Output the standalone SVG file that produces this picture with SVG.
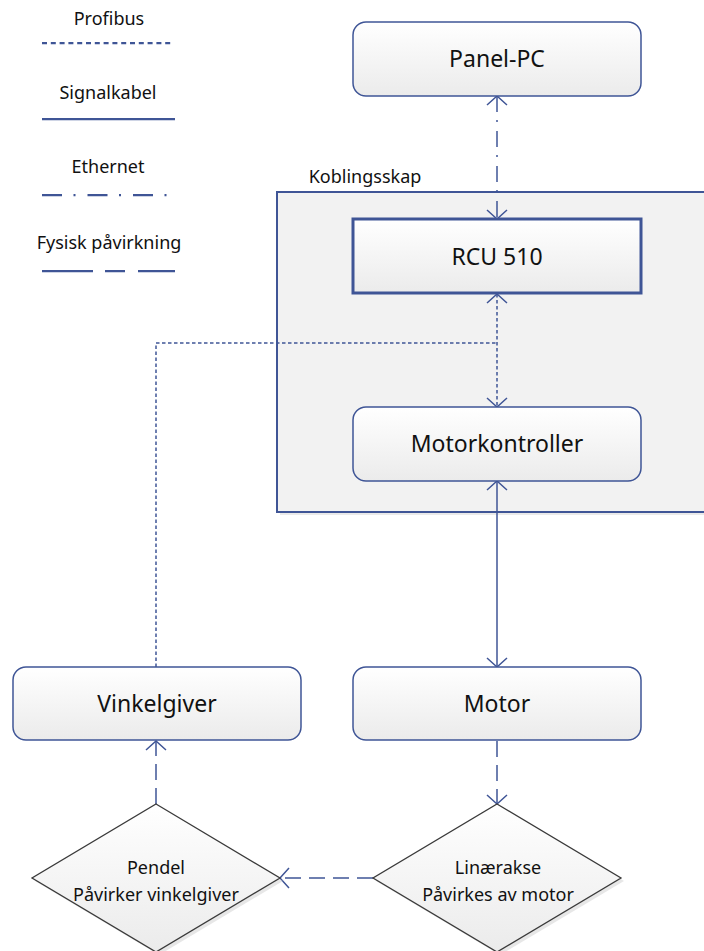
<svg xmlns="http://www.w3.org/2000/svg" width="704" height="951" viewBox="0 0 704 951">
<style>
.t{font-family:"Noto Sans","Open Sans","DejaVu Sans",sans-serif;fill:#111;text-anchor:middle}
.box{font-size:23px}
.sm{font-size:18px}
.node{fill:url(#g);stroke:#3F5596;stroke-width:1.5}
.dia{fill:url(#g);stroke:#3a3a3a;stroke-width:1.3}
.c{fill:none;stroke:#3F5596;stroke-width:1.5}
.prof{stroke-dasharray:3.5 2.5}
.eth{stroke-dasharray:16 8 2 9}
.phys{stroke-dasharray:16 8}
.lg{fill:none;stroke:#3F5596;stroke-width:2.25}
</style>
<defs>
<linearGradient id="g" x1="0" y1="0" x2="0" y2="1">
<stop offset="0" stop-color="#FFFFFF"/>
<stop offset="1" stop-color="#EBEBEB"/>
</linearGradient>
<marker id="a" viewBox="-1 -11 11 22" refX="9" refY="0" markerWidth="11" markerHeight="22" markerUnits="userSpaceOnUse" orient="auto-start-reverse" overflow="visible">
<path d="M0,-10 L9,0 L0,10" fill="none" stroke="#3F5596" stroke-width="1.5"/>
</marker>
</defs>
<rect width="704" height="951" fill="#FFFFFF"/>
<g id="legend">
<text class="t sm" x="109" y="25">Profibus</text>
<line class="lg" x1="42" y1="43" x2="174" y2="43" stroke-dasharray="5 3.8"/>
<text class="t sm" x="108" y="99">Signalkabel</text>
<line class="lg" x1="42" y1="119" x2="175" y2="119"/>
<text class="t sm" x="108" y="173">Ethernet</text>
<line class="lg" x1="42" y1="195" x2="167" y2="195" stroke-dasharray="20 11.5 2 12"/>
<text class="t sm" x="109" y="249">Fysisk påvirkning</text>
<path class="lg" d="M42,271 H93 M105,271 H125 M138,271 H175"/>
</g>
<g id="koblingsskap">
<rect x="280" y="195" width="440" height="320" fill="#d0d0d0" opacity="0.45"/>
<rect x="277" y="192" width="440" height="320" fill="#F2F2F2" stroke="#3F5596" stroke-width="2"/>
<text class="t sm" x="365" y="183">Koblingsskap</text>
</g>
<g id="connectors">
<line class="c eth" x1="497" y1="96" x2="497" y2="219" marker-start="url(#a)" marker-end="url(#a)"/>
<line class="c prof" x1="497" y1="294" x2="497" y2="407" marker-start="url(#a)" marker-end="url(#a)"/>
<path class="c prof" d="M156,667 V343 H497"/>
<line class="c" x1="497" y1="481" x2="497" y2="667" marker-start="url(#a)" marker-end="url(#a)"/>
<line class="c phys" x1="497" y1="741" x2="497" y2="804" marker-end="url(#a)"/>
<line class="c phys" x1="373" y1="878" x2="280" y2="878" marker-end="url(#a)"/>
<line class="c phys" x1="156" y1="804" x2="156" y2="741" marker-end="url(#a)"/>
</g>
<g id="panel-pc">
<rect class="node" x="353" y="22" width="288" height="74" rx="13"/>
<text class="t box" x="497" y="67">Panel-PC</text>
</g>
<g id="rcu510">
<rect x="353" y="219" width="288" height="74" fill="url(#g)" stroke="#3F5596" stroke-width="3"/>
<text class="t box" x="497" y="265">RCU 510</text>
</g>
<g id="motorkontroller">
<rect class="node" x="353" y="407" width="288" height="74" rx="13"/>
<text class="t box" x="497" y="452">Motorkontroller</text>
</g>
<g id="vinkelgiver">
<rect class="node" x="13" y="667" width="288" height="73" rx="13"/>
<text class="t box" x="157" y="712">Vinkelgiver</text>
</g>
<g id="motor">
<rect class="node" x="353" y="667" width="288" height="73" rx="13"/>
<text class="t box" x="497" y="712">Motor</text>
</g>
<g id="pendel">
<polygon points="159,807 283,881 159,955 35,881" fill="#cfcfcf" opacity="0.5"/>
<polygon class="dia" points="156,804 280,878 156,952 32,878"/>
<text class="t sm" x="156" y="874">Pendel</text>
<text class="t sm" x="156" y="901">Påvirker vinkelgiver</text>
</g>
<g id="linaerakse">
<polygon points="500,807 624,881 500,955 376,881" fill="#cfcfcf" opacity="0.5"/>
<polygon class="dia" points="497,804 621,878 497,952 373,878"/>
<text class="t sm" x="498" y="874">Linærakse</text>
<text class="t sm" x="498" y="901">Påvirkes av motor</text>
</g>
</svg>
